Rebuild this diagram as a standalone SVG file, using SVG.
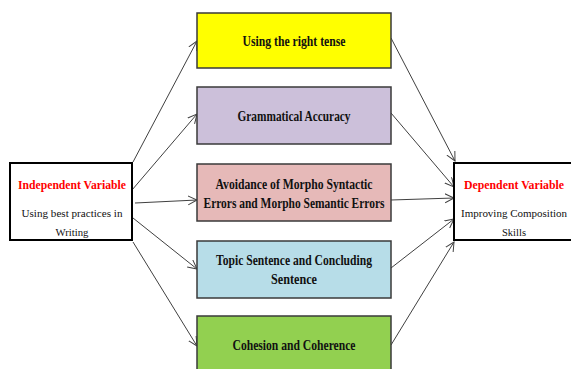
<svg xmlns="http://www.w3.org/2000/svg" width="571" height="369" viewBox="0 0 571 369">
<style>
.box{stroke:#3a3a3a;stroke-width:1.5}
.vbox{fill:#fff;stroke:#000;stroke-width:2}
.t{font-family:"Liberation Serif","Times New Roman",serif;font-weight:bold;font-size:15px;fill:#111;text-anchor:middle}
.r{font-family:"Liberation Serif","Times New Roman",serif;font-size:11px;fill:#111;text-anchor:middle}
.red{font-family:"Liberation Serif","Times New Roman",serif;font-weight:bold;font-size:11.6px;fill:#ff0000;text-anchor:middle}
.c{stroke:#404040;stroke-width:1;fill:none;marker-end:url(#ah)}
</style>
<defs>
<marker id="ah" markerUnits="userSpaceOnUse" markerWidth="12" markerHeight="12" refX="9" refY="5" orient="auto">
<path d="M0,0.5 L9,5 L0,9.5" fill="none" stroke="#404040" stroke-width="1"/>
</marker>
</defs>
<rect width="571" height="369" fill="#fff"/>
<g id="connectors">
<line class="c" x1="133" y1="162" x2="197" y2="41"/>
<line class="c" x1="132" y1="190" x2="197" y2="114"/>
<line class="c" x1="135" y1="203" x2="197" y2="200"/>
<line class="c" x1="133" y1="218" x2="197" y2="269"/>
<line class="c" x1="133" y1="242" x2="197" y2="346"/>
<line class="c" x1="391" y1="38" x2="455" y2="161"/>
<line class="c" x1="391" y1="113" x2="454" y2="187"/>
<line class="c" x1="391" y1="200" x2="454" y2="198"/>
<line class="c" x1="391" y1="268" x2="454" y2="219"/>
<line class="c" x1="391" y1="345" x2="454" y2="242"/>
</g>
<g id="independent">
<rect class="vbox" x="10" y="163" width="122" height="77"/>
<text class="red" x="72" y="189" textLength="108" lengthAdjust="spacingAndGlyphs">Independent Variable</text>
<text class="r" x="72" y="217" textLength="101" lengthAdjust="spacingAndGlyphs">Using best practices in</text>
<text class="r" x="72" y="236" textLength="33" lengthAdjust="spacingAndGlyphs">Writing</text>
</g>
<g id="tense">
<rect class="box" x="197" y="13" width="194" height="55" fill="#ffff00"/>
<text class="t" x="294" y="46" textLength="103" lengthAdjust="spacingAndGlyphs">Using the right tense</text>
</g>
<g id="grammar">
<rect class="box" x="197" y="87" width="194" height="57" fill="#ccc0da"/>
<text class="t" x="294" y="121" textLength="113" lengthAdjust="spacingAndGlyphs">Grammatical Accuracy</text>
</g>
<g id="avoidance">
<rect class="box" x="197" y="164" width="194" height="57" fill="#e6b9b8"/>
<text class="t" x="294" y="189" textLength="157" lengthAdjust="spacingAndGlyphs">Avoidance of Morpho Syntactic</text>
<text class="t" x="294" y="208" textLength="181" lengthAdjust="spacingAndGlyphs">Errors and Morpho Semantic Errors</text>
</g>
<g id="topic">
<rect class="box" x="197" y="241" width="194" height="57" fill="#b7dde8"/>
<text class="t" x="294" y="265" textLength="156" lengthAdjust="spacingAndGlyphs">Topic Sentence and Concluding</text>
<text class="t" x="294" y="284" textLength="46" lengthAdjust="spacingAndGlyphs">Sentence</text>
</g>
<g id="cohesion">
<rect class="box" x="197" y="316" width="194" height="70" fill="#92d050"/>
<text class="t" x="294" y="350" textLength="123" lengthAdjust="spacingAndGlyphs">Cohesion and Coherence</text>
</g>
<g id="dependent">
<rect class="vbox" x="454" y="163" width="130" height="77"/>
<text class="red" x="514" y="189" textLength="100" lengthAdjust="spacingAndGlyphs">Dependent Variable</text>
<text class="r" x="514" y="217" textLength="106" lengthAdjust="spacingAndGlyphs">Improving Composition</text>
<text class="r" x="514" y="236" textLength="24" lengthAdjust="spacingAndGlyphs">Skills</text>
</g>
</svg>
